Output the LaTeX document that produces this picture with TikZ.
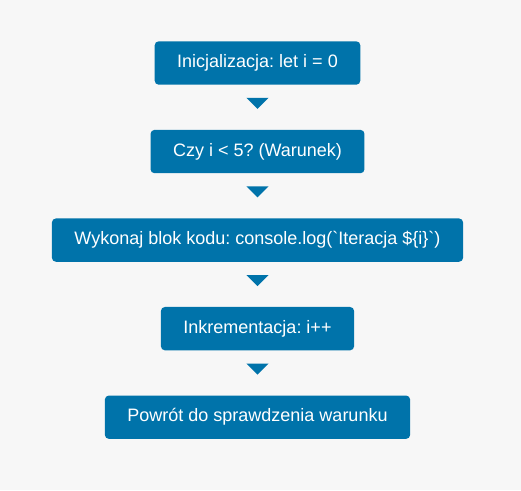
\documentclass[tikz,border=0pt]{standalone}
\usepackage{fontspec}
\setmainfont{Liberation Sans}[Ligatures=TeXOff]
\usetikzlibrary{positioning}
\definecolor{boxblue}{RGB}{0,115,170}
\definecolor{pagegray}{RGB}{247,247,247}
\tikzset{
  stepbox/.style={rectangle, rounded corners=3pt, fill=boxblue, text=white,
    font=\fontsize{13.5pt}{16pt}\selectfont\frenchspacing, minimum height=32.5pt,
    inner xsep=16.9pt},
}
\begin{document}
\begin{tikzpicture}[node distance=33.5pt]
% Page and its margins
\fill[pagegray] (-193.1pt,47.25pt) rectangle (197.6pt,-320.25pt);
\useasboundingbox (-193.1pt,47.25pt) rectangle (197.6pt,-320.25pt);

% Size of the down arrows
\def\tw{8.25pt}
\def\th{8.25pt}

% The steps of the loop
\node[stepbox] (init) at (0,0) {Inicjalizacja: let i = 0};
\node[stepbox, below=of init] (cond) {Czy i < 5? (Warunek)};
\node[stepbox, below=of cond] (body) {Wykonaj blok kodu: console.log(`Iteracja \$\{i\}`)};
\node[stepbox, below=of body] (incr) {Inkrementacja: i++};
\node[stepbox, below=of incr] (back) {Powrót do sprawdzenia warunku};

% Down arrows between the steps
\coordinate (A1) at ([yshift=-9.75pt]init.south);
\fill[boxblue] (A1) ++(-\tw,0) -- ++(2*\tw,0) -- ++(-\tw,-\th) -- cycle;
\coordinate (A2) at ([yshift=-9.75pt]cond.south);
\fill[boxblue] (A2) ++(-\tw,0) -- ++(2*\tw,0) -- ++(-\tw,-\th) -- cycle;
\coordinate (A3) at ([yshift=-9.75pt]body.south);
\fill[boxblue] (A3) ++(-\tw,0) -- ++(2*\tw,0) -- ++(-\tw,-\th) -- cycle;
\coordinate (A4) at ([yshift=-9.75pt]incr.south);
\fill[boxblue] (A4) ++(-\tw,0) -- ++(2*\tw,0) -- ++(-\tw,-\th) -- cycle;
\end{tikzpicture}
\end{document}
